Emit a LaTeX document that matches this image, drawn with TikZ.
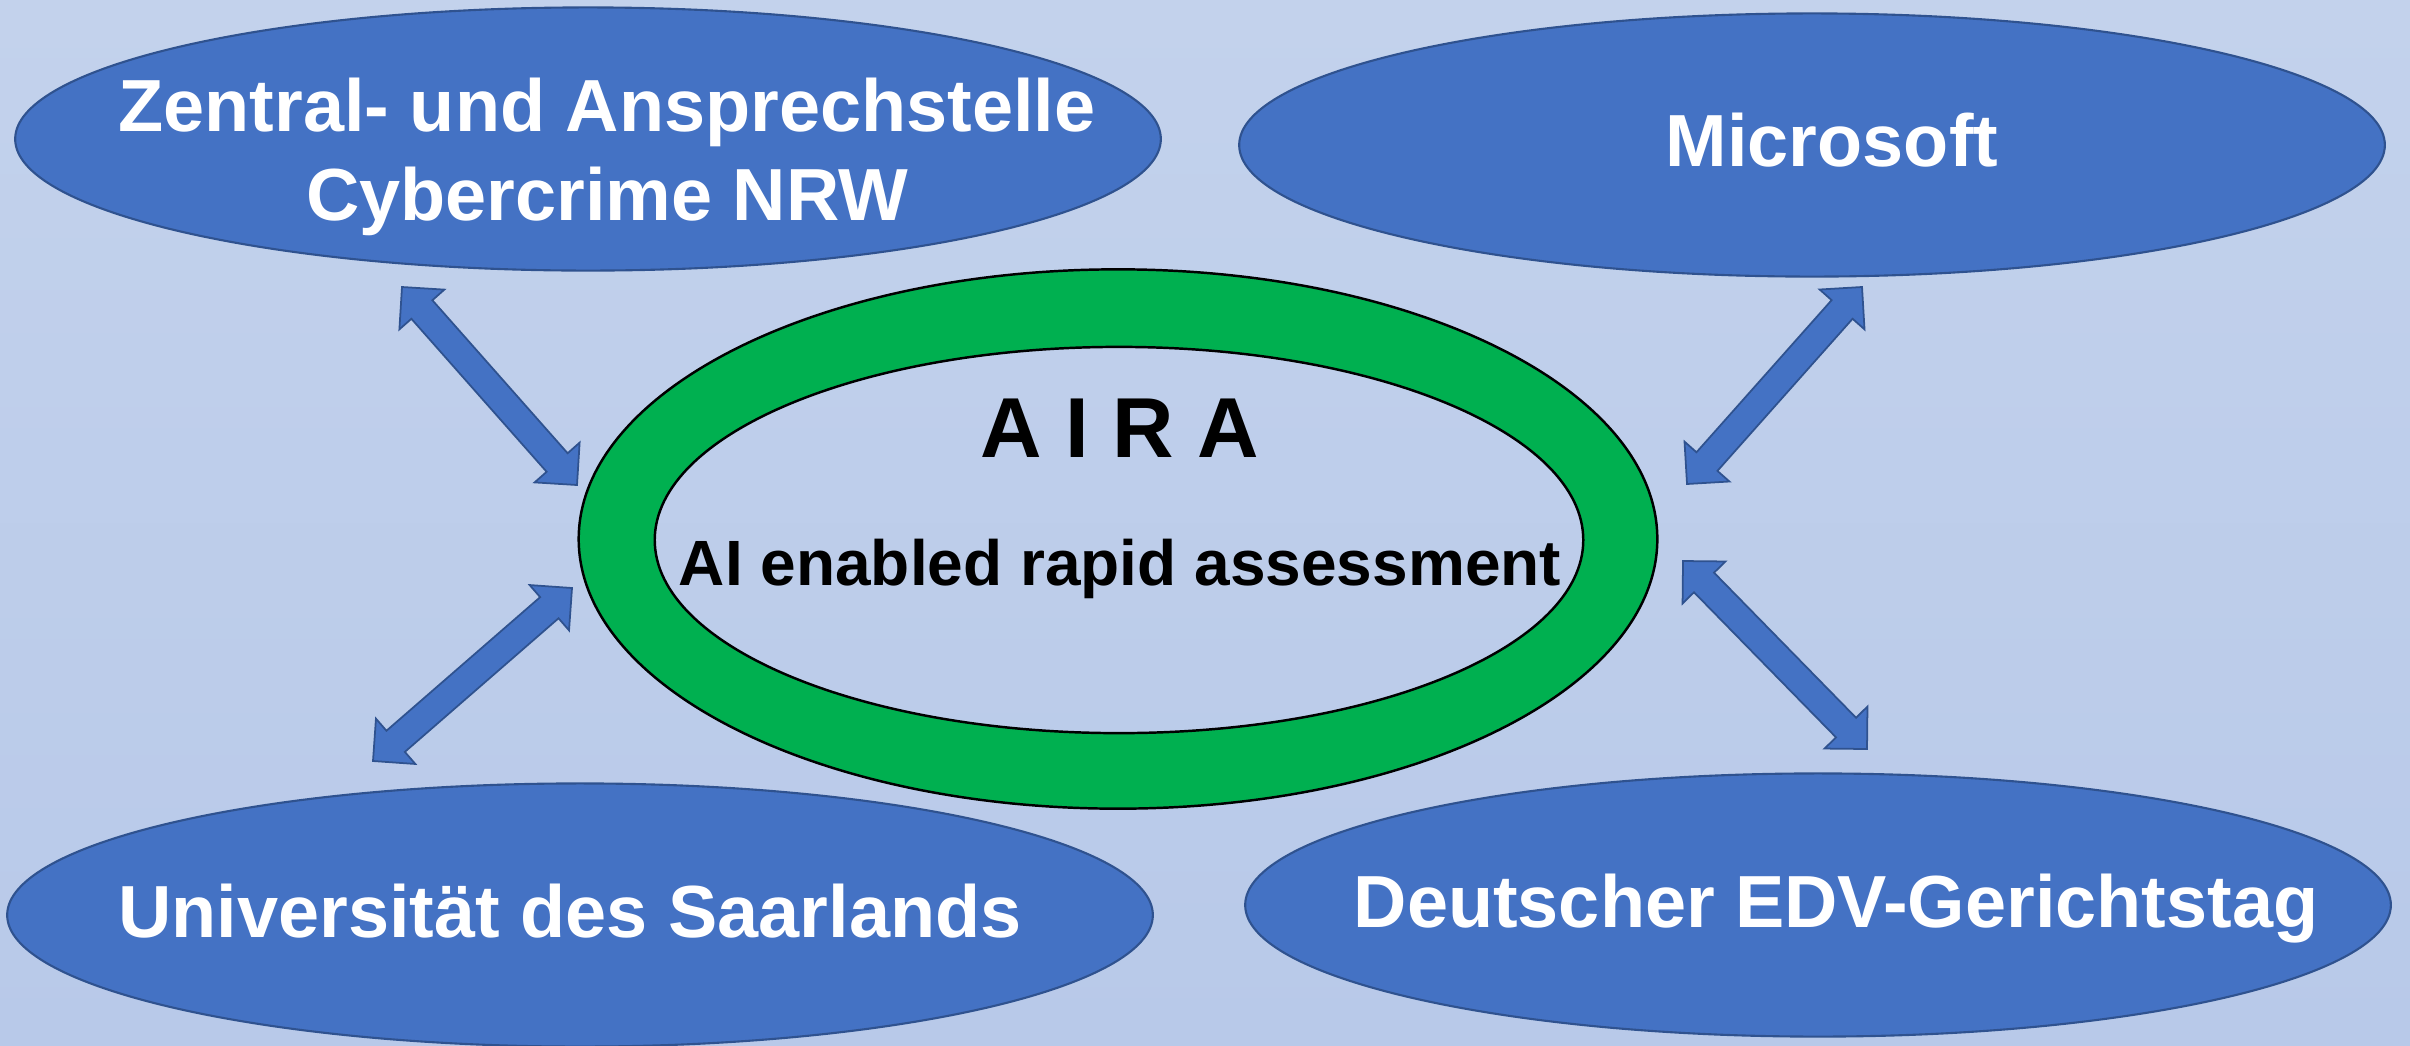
\documentclass[tikz,border=0pt]{standalone}
\usepackage{fontspec}
\setmainfont{Liberation Sans}
\usetikzlibrary{shapes.geometric,calc}
\definecolor{bgtop}{HTML}{C3D2EC}
\definecolor{bgbot}{HTML}{B8C9E9}
\definecolor{nodeblue}{HTML}{4472C4}
\definecolor{edgeblue}{HTML}{2F528F}
\definecolor{ringgreen}{HTML}{00B050}
\tikzset{
  partner/.style={ellipse, fill=nodeblue, draw=edgeblue, line width=0.6pt, inner sep=0pt,
    minimum width=11.45cm, minimum height=2.63cm},
  partnertext/.style={text=white, font=\bfseries\fontsize{21}{25.3}\selectfont, align=center, inner sep=0pt},
  ringline/.style={ellipse, draw=black, line width=0.7pt, inner sep=0pt},
  airatext/.style={text=black, inner sep=0pt, anchor=base},
  blockarrow/.style={fill=nodeblue, draw=edgeblue, line width=0.5pt, line join=miter},
}
\newcommand{\blkarrow}[2]{%
  \coordinate (h1) at ($(#1)!0.30cm!(#2)$);
  \coordinate (h2) at ($(#2)!0.30cm!(#1)$);
  \draw[blockarrow] (#1) -- ($(h1)!0.30cm!90:(#2)$) -- ($(h1)!0.14cm!90:(#2)$)
    -- ($(h2)!0.14cm!-90:(#1)$) -- ($(h2)!0.30cm!-90:(#1)$) -- (#2)
    -- ($(h2)!0.30cm!90:(#1)$) -- ($(h2)!0.14cm!90:(#1)$)
    -- ($(h1)!0.14cm!-90:(#2)$) -- ($(h1)!0.30cm!-90:(#2)$) -- cycle;
}
\begin{document}
\begin{tikzpicture}[x=0.01cm, y=-0.01cm]
  \fill[top color=bgtop, bottom color=bgbot] (0,0) rectangle (2410,1045);
  \useasboundingbox (0,0) rectangle (2410,1045);

  % partner ellipses
  \node[partner] (zac) at (588,139) {};
  \node[partnertext] (zactext) at (607,157) {Zentral- und Ansprechstelle\\Cybercrime NRW};
  \node[partner] (ms) at (1812,145) {};
  \node[partnertext, anchor=base] (mstext) at (1832,166) {Microsoft};
  \node[partner] (uds) at (580,915) {};
  \node[partnertext, anchor=base] (udstext) at (570,937) {Universität des Saarlands};
  \node[partner] (edv) at (1818,905) {};
  \node[partnertext, anchor=base] (edvtext) at (1836,927) {Deutscher EDV-Gerichtstag};

  % central ring
  \fill[ringgreen, even odd rule] (1118,539) ellipse [x radius=5.39cm, y radius=2.695cm]
                                  (1119,540) ellipse [x radius=4.64cm, y radius=1.93cm];
  \node[ringline, minimum width=10.78cm, minimum height=5.39cm] (aira) at (1118,539) {};
  \node[ringline, minimum width=9.28cm, minimum height=3.86cm] (airain) at (1119,540) {};
  \node[airatext, font=\bfseries\fontsize{24.2}{29}\selectfont] (airatitle) at (1120,457) {A I R A};
  \node[airatext, font=\bfseries\fontsize{18.2}{22}\selectfont] (airasub) at (1120,585) {AI enabled rapid assessment};

  % block double arrows
  \coordinate (a1s) at (402,287); \coordinate (a1e) at (577,485);
  \coordinate (a2s) at (572,588); \coordinate (a2e) at (373,761);
  \coordinate (a3s) at (1862,287); \coordinate (a3e) at (1687,484);
  \coordinate (a4s) at (1683,561); \coordinate (a4e) at (1867,749);
  \blkarrow{a1s}{a1e}
  \blkarrow{a2s}{a2e}
  \blkarrow{a3s}{a3e}
  \blkarrow{a4s}{a4e}
\end{tikzpicture}
\end{document}
